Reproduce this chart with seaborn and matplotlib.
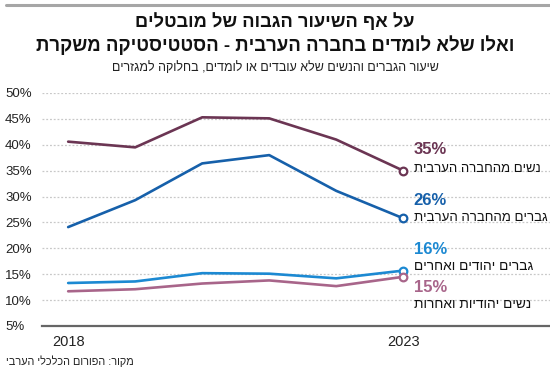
import numpy as np
import pandas as pd
import matplotlib
matplotlib.use("Agg")
import matplotlib.pyplot as plt
import seaborn as sns


def heb(s):
    # matplotlib has no bidi support: flip Hebrew strings for display
    return s[::-1]


def fit_width(txt, width_px, renderer):
    # shrink/grow a text so it spans about width_px
    w = txt.get_window_extent(renderer).width
    txt.set_fontsize(txt.get_fontsize() * width_px / w)


years = [2018, 2019, 2020, 2021, 2022, 2023]
women_arab = [40.6, 39.5, 45.3, 45.1, 41.0, 35.0]
men_arab = [24.1, 29.3, 36.4, 38.0, 31.1, 25.8]
men_jewish = [13.3, 13.6, 15.2, 15.1, 14.2, 15.7]
women_jewish = [11.7, 12.1, 13.2, 13.8, 12.7, 14.5]

series_names = ["נשים מהחברה הערבית", "גברים מהחברה הערבית",
                "גברים יהודים ואחרים", "נשים יהודיות ואחרות"]
series_values = [women_arab, men_arab, men_jewish, women_jewish]
end_labels = ["35%", "26%", "16%", "15%"]
colors = ["#6b3553", "#1660aa", "#1c89d2", "#a8658a"]

title1 = "על אף השיעור הגבוה של מובטלים"
title2 = "ואלו שלא לומדים בחברה הערבית - הסטטיסטיקה משקרת"
subtitle = "שיעור הגברים והנשים שלא עובדים או לומדים, בחלוקה למגזרים"
source = "מקור: הפורום הכלכלי הערבי"
y_ticks = [5, 10, 15, 20, 25, 30, 35, 40, 45, 50]
x_ticks = [2018, 2023]

df = pd.DataFrame({
    "year": years * len(series_names),
    "value": np.concatenate(series_values),
    "series": np.repeat(series_names, len(years)),
})

sns.set_style("white")
plt.rcParams["font.family"] = ["Liberation Sans", "DejaVu Sans"]

fig = plt.figure(figsize=(5.5, 3.78), dpi=100)
ax = fig.add_axes([0.0764, 0.1376, 0.9236, 0.6164])
renderer = fig.canvas.get_renderer()

palette = dict(zip(series_names, colors))
sns.lineplot(data=df, x="year", y="value", hue="series", palette=palette,
             linewidth=1.9, legend=False, ax=ax, zorder=3)

last = df[df["year"] == years[-1]]
for name, col in zip(series_names, colors):
    row = last[last["series"] == name]
    ax.plot(row["year"], row["value"], "o", ms=5.5, mfc="white", mec=col,
            mew=1.6, zorder=4, clip_on=False)

# end labels: offsets in pixels (pct line, name line) and name widths
offsets = [(21, 2), (18, 0), (21, 5), (-11, -27)]
name_widths = [127, 133, 119, 117]
for name, val, lab, col, (d1, d2), nw in zip(series_names, series_values, end_labels,
                                             colors, offsets, name_widths):
    ax.annotate(lab, xy=(years[-1], val[-1]), xytext=(7.5, d1 * 0.72),
                textcoords="offset points", ha="left", va="center",
                fontsize=12, fontweight="bold", color=col)
    t = ax.annotate(heb(name), xy=(years[-1], val[-1]), xytext=(7.5, d2 * 0.72),
                    textcoords="offset points", ha="left", va="center",
                    fontsize=10, color="#111111")
    fit_width(t, nw, renderer)

ax.set_xlim(2017.61, 2025.19)
ax.set_ylim(5, 50)
ax.set_yticks(y_ticks)
ax.set_yticklabels([f"{t}%" for t in y_ticks], fontsize=9.5, color="#222222", ha="left")
ax.set_xticks(x_ticks)
ax.set_xticklabels([str(t) for t in x_ticks], fontsize=10.5, color="#222222")
ax.set_xlabel("")
ax.set_ylabel("")

for t in y_ticks[1:]:
    ax.axhline(t, color="#c8c8c8", lw=0.9, ls=(0, (1.5, 1.5)), zorder=1)

for s in ["top", "right", "left"]:
    ax.spines[s].set_visible(False)
ax.spines["bottom"].set_color("#666666")
ax.spines["bottom"].set_linewidth(1.6)
ax.tick_params(axis="x", direction="inout", length=9, width=1.2, color="#333333", pad=2)
ax.tick_params(axis="y", length=0, pad=37 * 0.72)

# header
fig.add_artist(plt.Line2D([6 / 550, 1], [1 - 5 / 378] * 2, color="#a6a6a6", lw=2.2))
t1 = fig.text(0.5, 1 - 22 / 378, heb(title1), ha="center", va="center",
              fontsize=15, fontweight="bold", color="#111111")
t2 = fig.text(0.5, 1 - 45 / 378, heb(title2), ha="center", va="center",
              fontsize=15, fontweight="bold", color="#111111")
t3 = fig.text(0.5, 1 - 68 / 378, heb(subtitle), ha="center", va="center",
              fontsize=12, color="#222222")
t4 = fig.text(6 / 550, 1 - 361 / 378, heb(source), ha="left", va="center",
              fontsize=10, color="#222222")
fit_width(t1, 280, renderer)
fit_width(t2, 480, renderer)
fit_width(t3, 330, renderer)
fit_width(t4, 128, renderer)

fig.savefig("out.png", dpi=100)
